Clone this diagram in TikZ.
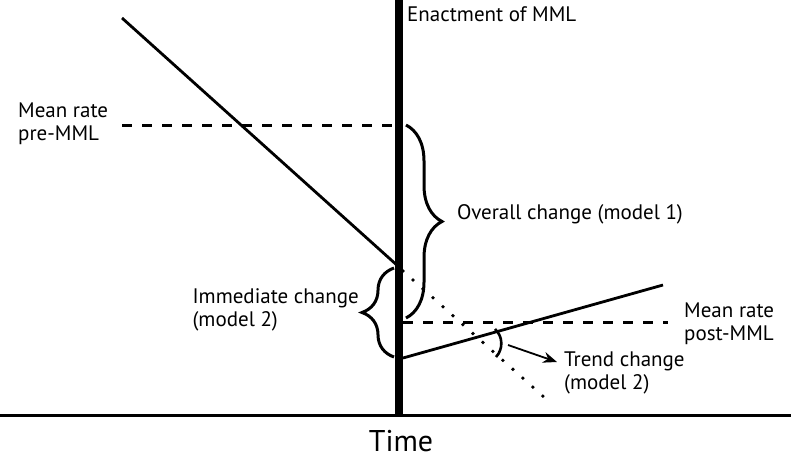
\documentclass[tikz,border=0pt]{standalone}
\usepackage{fontspec}
\setmainfont{PT Sans}
\usetikzlibrary{arrows.meta,positioning,calc,decorations.pathreplacing}

\begin{document}
\begin{tikzpicture}[x=1pt,y=-1pt,
    lbl/.style={font=\fontsize{21}{23}\selectfont, align=left, inner sep=0pt},
    meanrate/.style={line width=3pt, dash pattern=on 10pt off 10pt},
    trendline/.style={line width=2.8pt},
    changebrace/.style={line width=3pt, decorate, decoration={brace, amplitude=#1}}]
    \useasboundingbox (0,0) rectangle (791,459);
    % time axis
    \draw[line width=3pt] (0,415) -- (791,415);
    \node[font=\fontsize{30}{32}\selectfont, inner sep=0pt] (time) at (401,441) {Time};
    % enactment of the law
    \coordinate (enacttop) at (399,0);
    \coordinate (enactbot) at (399,416);
    \draw[line width=7.5pt] (enacttop) -- (enactbot);
    \node[lbl, anchor=west] (enact) at (407,14) {Enactment of MML};
    % pre-MML trend and its projection
    \coordinate (pre0) at (122,18);
    \coordinate (pre1) at (399,267);
    \coordinate (proj) at (545,398);
    \draw[trendline] (pre0) -- (pre1);
    \draw[line width=3.8pt, line cap=round, dash pattern=on 0pt off 13.4pt] (403,271) -- (proj);
    % post-MML trend
    \coordinate (post0) at (403,358);
    \coordinate (post1) at (663,285);
    \draw[trendline] (post0) -- (post1);
    % mean rates
    \coordinate (mpre0) at (122,125);
    \coordinate (mpre1) at (399,125);
    \draw[meanrate] (mpre0) -- (mpre1);
    \node[lbl, anchor=west] (mpre) at (18,124) {Mean rate\\pre-MML};
    \coordinate (mpost0) at (403,322);
    \coordinate (mpost1) at (668,322);
    \draw[meanrate] (mpost0) -- (mpost1);
    \node[lbl, anchor=west] (mpost) at (684,324) {Mean rate\\post-MML};
    % overall change
    \draw[changebrace=36pt] (406,125) -- (406,318);
    \node[lbl, anchor=west] (overall) at (457,214) {Overall change (model 1)};
    % immediate change
    \draw[changebrace=32pt] (394,357) -- (394,268);
    \node[lbl, anchor=east] (immediate) at (359,310) {Immediate change\\(model 2)};
    % trend change
    \coordinate (arc0) at (495,329);
    \coordinate (arc1) at (496,357);
    \draw[line width=2.6pt] (arc0) to[bend left=45] (arc1);
    \node[lbl, anchor=west] (trend) at (564,373) {Trend change\\(model 2)};
    \coordinate (tail) at (508,345);
    \draw[line width=1.8pt, -{Stealth[length=14pt,width=11pt]}] (tail) -- (557,362);
\end{tikzpicture}
\end{document}
